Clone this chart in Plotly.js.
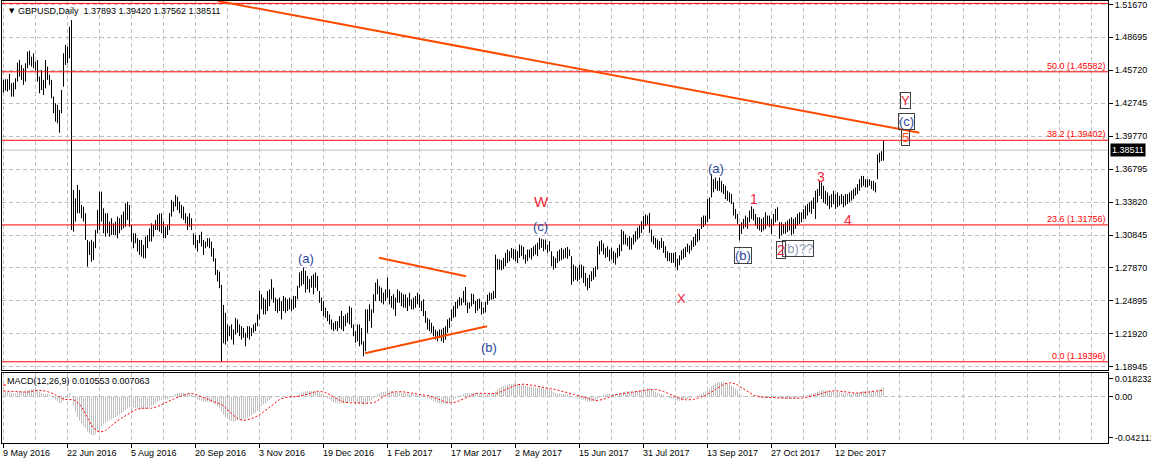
<!DOCTYPE html>
<html><head><meta charset="utf-8">
<script src="https://cdn.plot.ly/plotly-3.0.1.min.js"></script>
<style>html,body{margin:0;padding:0;background:#fff}#chart{width:1151px;height:465px}</style>
</head><body><div id="chart"></div>
<script>
// ---- data (daily GBPUSD bars, index 0 = 9 May 2016) ----
const high = [
1.4485,1.4491,1.4491,1.4539,1.4455,1.4461,1.4500,1.4641,1.4665,1.4620,
1.4590,1.4635,1.4740,1.4749,1.4695,1.4725,1.4650,1.4665,1.4515,1.4575,
1.4485,1.4665,1.4605,1.4530,1.4485,1.4334,1.4274,1.4259,1.4214,1.4394,
1.4725,1.4801,1.4786,1.4966,1.5026,1.3491,1.3416,1.3536,1.3491,1.3356,
1.3341,1.3281,1.3040,1.3025,1.3040,1.3025,1.3130,1.3311,1.3476,1.3476,
1.3326,1.3281,1.3281,1.3206,1.3236,1.3190,1.3206,1.3251,1.3236,1.3266,
1.3296,1.3371,1.3386,1.3356,1.3175,1.3100,1.3100,1.3055,1.3040,1.3040,
1.2995,1.3070,1.3085,1.3145,1.3190,1.3175,1.3221,1.3266,1.3281,1.3281,
1.3206,1.3160,1.3175,1.3281,1.3401,1.3386,1.3446,1.3431,1.3386,1.3356,
1.3341,1.3281,1.3251,1.3281,1.3236,1.3100,1.3085,1.3040,1.3085,1.3115,
1.3040,1.3025,1.3055,1.3055,1.3025,1.2965,1.2874,1.2769,1.2754,1.2634,
1.2453,1.2382,1.2277,1.2261,1.2277,1.2231,1.2337,1.2322,1.2277,1.2261,
1.2246,1.2201,1.2261,1.2261,1.2246,1.2277,1.2292,1.2367,1.2579,1.2549,
1.2519,1.2504,1.2579,1.2594,1.2685,1.2609,1.2519,1.2504,1.2519,1.2488,
1.2534,1.2519,1.2504,1.2519,1.2504,1.2534,1.2534,1.2625,1.2746,1.2761,
1.2791,1.2761,1.2715,1.2685,1.2715,1.2730,1.2746,1.2715,1.2579,1.2519,
1.2488,1.2428,1.2398,1.2367,1.2322,1.2292,1.2307,1.2307,1.2352,1.2398,
1.2352,1.2367,1.2382,1.2443,1.2428,1.2277,1.2216,1.2277,1.2277,1.2246,
1.2125,1.2413,1.2413,1.2458,1.2413,1.2549,1.2655,1.2685,1.2625,1.2609,
1.2564,1.2594,1.2700,1.2594,1.2534,1.2549,1.2519,1.2594,1.2579,1.2564,
1.2549,1.2549,1.2519,1.2564,1.2504,1.2519,1.2534,1.2564,1.2549,1.2488,
1.2504,1.2398,1.2337,1.2322,1.2292,1.2261,1.2231,1.2216,1.2231,1.2231,
1.2246,1.2261,1.2322,1.2337,1.2413,1.2443,1.2480,1.2500,1.2525,1.2515,
1.2580,1.2615,1.2475,1.2475,1.2555,1.2550,1.2490,1.2505,1.2510,1.2480,
1.2430,1.2480,1.2545,1.2565,1.2560,1.2580,1.2908,1.2869,1.2863,1.2857,
1.2878,1.2923,1.2953,1.2938,1.2968,1.2959,1.2953,1.2938,1.2999,1.2990,
1.2977,1.2908,1.2953,1.2953,1.2968,1.2983,1.2999,1.3014,1.3059,1.3050,
1.3044,1.3044,1.2999,1.3029,1.2938,1.2893,1.2878,1.2938,1.2953,1.2968,
1.2953,1.2968,1.2977,1.2953,1.2893,1.2817,1.2802,1.2787,1.2817,1.2817,
1.2802,1.2742,1.2697,1.2727,1.2757,1.2787,1.2802,1.2983,1.3029,1.3038,
1.3008,1.2968,1.2983,1.2953,1.2968,1.2938,1.2923,1.2968,1.2999,1.3134,
1.3119,1.3089,1.3059,1.3074,1.3059,1.3089,1.3119,1.3150,1.3171,1.3210,
1.3255,1.3270,1.3261,1.3285,1.3134,1.3074,1.3059,1.3044,1.3029,1.3059,
1.3029,1.2983,1.2938,1.2923,1.2923,1.2923,1.2931,1.2871,1.2901,1.2946,
1.2961,1.2976,1.3006,1.2991,1.3036,1.3066,1.3095,1.3140,1.3140,1.3245,
1.3260,1.3260,1.3409,1.3424,1.3633,1.3588,1.3603,1.3573,1.3603,1.3573,
1.3544,1.3529,1.3484,1.3469,1.3454,1.3379,1.3320,1.3275,1.3185,1.3200,
1.3230,1.3260,1.3245,1.3305,1.3343,1.3320,1.3275,1.3245,1.3245,1.3230,
1.3245,1.3290,1.3260,1.3260,1.3230,1.3275,1.3320,1.3335,1.3200,1.3200,
1.3185,1.3200,1.3215,1.3230,1.3245,1.3230,1.3245,1.3275,1.3290,1.3290,
1.3320,1.3349,1.3364,1.3379,1.3394,1.3424,1.3484,1.3499,1.3573,1.3559,
1.3529,1.3484,1.3469,1.3439,1.3454,1.3484,1.3454,1.3469,1.3439,1.3454,
1.3439,1.3454,1.3454,1.3469,1.3484,1.3499,1.3514,1.3544,1.3588,1.3618,
1.3618,1.3588,1.3588,1.3588,1.3573,1.3573,1.3559,1.3812,1.3827,1.3842,1.3942
];
const low = [
1.4370,1.4388,1.4379,1.4394,1.4334,1.4334,1.4400,1.4470,1.4515,1.4485,
1.4440,1.4470,1.4590,1.4620,1.4605,1.4590,1.4569,1.4470,1.4364,1.4394,
1.4349,1.4409,1.4485,1.4440,1.4319,1.4184,1.4108,1.4093,1.4009,1.4184,
1.4424,1.4620,1.4635,1.4680,1.3130,1.3115,1.3206,1.3281,1.3281,1.3236,
1.3206,1.3040,1.2799,1.2904,1.2844,1.2859,1.2965,1.3100,1.3130,1.3206,
1.3100,1.3070,1.3100,1.3070,1.3085,1.3085,1.3085,1.3055,1.3100,1.3130,
1.3145,1.3160,1.3221,1.3160,1.3025,1.2965,1.3010,1.2935,1.2904,1.2889,
1.2874,1.2874,1.2965,1.3025,1.3025,1.3070,1.3130,1.3130,1.3115,1.3100,
1.3055,1.3055,1.3085,1.3130,1.3251,1.3296,1.3341,1.3311,1.3281,1.3236,
1.3221,1.3190,1.3130,1.3160,1.3130,1.2995,1.2965,1.2935,1.3010,1.2980,
1.2904,1.2965,1.2980,1.2965,1.2889,1.2844,1.2724,1.2664,1.2604,1.1941,
1.2107,1.2095,1.2125,1.2171,1.2140,1.2095,1.2186,1.2201,1.2171,1.2140,
1.2156,1.2080,1.2156,1.2140,1.2171,1.2201,1.2216,1.2261,1.2322,1.2413,
1.2367,1.2367,1.2398,1.2443,1.2504,1.2473,1.2398,1.2382,1.2398,1.2322,
1.2398,1.2382,1.2398,1.2413,1.2398,1.2413,1.2428,1.2504,1.2609,1.2625,
1.2640,1.2564,1.2594,1.2564,1.2609,1.2549,1.2609,1.2579,1.2473,1.2398,
1.2352,1.2337,1.2307,1.2277,1.2231,1.2216,1.2231,1.2216,1.2246,1.2231,
1.2216,1.2261,1.2292,1.2277,1.2246,1.2171,1.2110,1.2125,1.2080,1.2095,
1.1989,1.2035,1.2201,1.2307,1.2246,1.2382,1.2488,1.2549,1.2488,1.2473,
1.2458,1.2488,1.2519,1.2458,1.2428,1.2413,1.2352,1.2473,1.2473,1.2443,
1.2428,1.2428,1.2398,1.2443,1.2413,1.2413,1.2428,1.2458,1.2428,1.2398,
1.2352,1.2292,1.2231,1.2216,1.2201,1.2171,1.2140,1.2125,1.2156,1.2125,
1.2110,1.2140,1.2201,1.2246,1.2307,1.2337,1.2345,1.2420,1.2445,1.2450,
1.2475,1.2450,1.2380,1.2420,1.2440,1.2460,1.2380,1.2400,1.2420,1.2365,
1.2375,1.2385,1.2455,1.2490,1.2500,1.2505,1.2515,1.2772,1.2772,1.2766,
1.2778,1.2802,1.2832,1.2848,1.2878,1.2863,1.2848,1.2832,1.2878,1.2893,
1.2863,1.2826,1.2848,1.2878,1.2863,1.2893,1.2908,1.2893,1.2953,1.2968,
1.2938,1.2953,1.2923,1.2938,1.2802,1.2772,1.2787,1.2832,1.2848,1.2857,
1.2869,1.2878,1.2869,1.2893,1.2636,1.2666,1.2681,1.2666,1.2681,1.2697,
1.2651,1.2621,1.2585,1.2606,1.2666,1.2681,1.2706,1.2772,1.2908,1.2938,
1.2908,1.2878,1.2887,1.2848,1.2863,1.2832,1.2817,1.2878,1.2893,1.2938,
1.2999,1.2999,1.2983,1.2953,1.2953,1.2999,1.3020,1.3044,1.3059,1.3104,
1.3134,1.3165,1.3180,1.3104,1.3020,1.2999,1.2968,1.2953,1.2953,1.2968,
1.2923,1.2878,1.2848,1.2848,1.2832,1.2832,1.2797,1.2767,1.2812,1.2857,
1.2871,1.2886,1.2931,1.2916,1.2946,1.2976,1.2991,1.3021,1.3036,1.3140,
1.3155,1.3176,1.3200,1.3230,1.3424,1.3469,1.3499,1.3484,1.3484,1.3469,
1.3454,1.3409,1.3394,1.3379,1.3364,1.3260,1.3230,1.3185,1.3036,1.3095,
1.3140,1.3155,1.3140,1.3200,1.3230,1.3215,1.3170,1.3140,1.3125,1.3110,
1.3125,1.3140,1.3170,1.3155,1.3095,1.3170,1.3200,1.3215,1.3051,1.3081,
1.3095,1.3095,1.3110,1.3125,1.3081,1.3095,1.3140,1.3170,1.3185,1.3200,
1.3230,1.3230,1.3260,1.3290,1.3275,1.3320,1.3230,1.3379,1.3439,1.3409,
1.3379,1.3364,1.3349,1.3320,1.3335,1.3364,1.3320,1.3335,1.3349,1.3364,
1.3335,1.3349,1.3364,1.3379,1.3394,1.3409,1.3439,1.3454,1.3484,1.3514,
1.3529,1.3514,1.3514,1.3529,1.3499,1.3484,1.3469,1.3588,1.3738,1.3753,1.3756
];
const dateLabels = ['9 May 2016','22 Jun 2016','5 Aug 2016','20 Sep 2016','3 Nov 2016','19 Dec 2016','1 Feb 2017','17 Mar 2017','2 May 2017','15 Jun 2017','31 Jul 2017','13 Sep 2017','27 Oct 2017','12 Dec 2017'];
const dateLabelBars = [0,32,64,96,128,160,192,224,256,288,320,352,384,416];
const priceTicks = [1.51670,1.48695,1.45720,1.42745,1.39770,1.36795,1.33820,1.30845,1.27870,1.24895,1.21920,1.18945];
const macdTicks = [0.018232, 0, -0.042112];
const macdTickText = ['0.018232','0.00','-0.042112'];
const fibLevels = [61.8, 50.0, 38.2, 23.6, 0.0];
const fibPrices = [1.51763, 1.45582, 1.39402, 1.31756, 1.19396];
const lastPrice = 1.38511;
const headerOHLC = ['1.37893','1.39420','1.37562','1.38511'];
const macdHeader = ['0.010553','0.007063'];
const macdStart = 0.0050, signalStart = 0.0056; // MACD / signal level at the first bar

// ---- trendlines [bar, price] pairs and wave labels ----
const trendLines = [
  [[107.1, 1.51976], [457.9, 1.40083]],
  [[180.75, 1.20163], [241.75, 1.22610]],
  [[187.75, 1.28796], [231.25, 1.27116]]
];
const BLUE = '#2A4A9E', RED = '#F2283C';
const waveLabels = [
  {t:'(a)', i:151,    p:1.28768, c:BLUE},
  {t:'(b)', i:242.75, p:1.20732, c:BLUE},
  {t:'(c)', i:268.25, p:1.31658, c:BLUE},
  {t:'W',   i:269,    p:1.33871, c:RED, s:15},
  {t:'X',   i:338.75, p:1.25157, c:RED},
  {t:'(a)', i:356,    p:1.36895, c:BLUE},
  {t:'(b)', i:369.9,  p:1.29040, c:BLUE, box:true},
  {t:'1',   i:375,    p:1.34096, c:RED, s:14},
  {t:'(b)??', i:397.2, p:1.29582, c:'#8E9CB8', box:true},
  {t:'2',   i:388.6,  p:1.29491, c:RED, s:14, box:true},
  {t:'3',   i:408.75, p:1.36128, c:RED, s:14},
  {t:'4',   i:422.4,  p:1.32200, c:RED, s:14},
  {t:'Y',   i:450.9,  p:1.42991, c:RED, box:true},
  {t:'(c)', i:451.6,  p:1.41140, c:BLUE, box:true},
  {t:'5',   i:450.9,  p:1.39695, c:'#FF4A20', box:true}
];

// ---- build traces ----
const bx = [], by = [];
for (let k = 0; k < high.length; k++) { bx.push(k, k, null); by.push(low[k], high[k], null); }

const med = high.map((h, k) => (h + low[k]) / 2);
let e12 = med[0], e26 = med[0] - macdStart;
const a12 = 2 / 13, a26 = 2 / 27;
const macd = [];
for (let k = 0; k < med.length; k++) {
  if (k > 0) { e12 += a12 * (med[k] - e12); e26 += a26 * (med[k] - e26); }
  macd.push(e12 - e26);
}
const signal = macd.map((v, k) => {
  let s = 0; for (let j = k - 8; j <= k; j++) s += (j >= 0 ? macd[j] : signalStart); return s / 9;
});
const hx = [], hy = [];
for (let k = 0; k < macd.length; k++) { hx.push(k, k, null); hy.push(0, macd[k], null); }
const idx = macd.map((v, k) => k);

const traces = [
  {type:'scatter', mode:'lines', x:bx, y:by, xaxis:'x2', yaxis:'y', line:{color:'#000', width:1}, hoverinfo:'skip'},
  {type:'scatter', mode:'lines', x:hx, y:hy, xaxis:'x', yaxis:'y2', line:{color:'#C0C0C0', width:1}, hoverinfo:'skip'},
  {type:'scatter', mode:'lines', x:idx, y:signal, xaxis:'x', yaxis:'y2', line:{color:'#FF0000', width:1, dash:'2px,2px'}, hoverinfo:'skip'}
];

const FONT = 'Liberation Sans, Arial, sans-serif';
const GRID = '#C0C0C0', GD = '4px,3px';
const xr = [-0.75, 552.25];
const allGrid = []; for (let g = 0; g <= 544; g += 16) allGrid.push(g);
const minorGrid = allGrid.filter(g => !dateLabelBars.includes(g));

const shapes = [];
shapes.push({type:'line', xref:'paper', yref:'y2', x0:0, x1:1, y0:0, y1:0, line:{color:GRID, width:1, dash:GD}, layer:'below'});
shapes.push({type:'line', xref:'paper', yref:'y', x0:0, x1:1, y0:lastPrice, y1:lastPrice, line:{color:'#C0C0C0', width:1}, layer:'below'});
fibPrices.forEach(p => shapes.push({type:'line', xref:'paper', yref:'y', x0:0, x1:1, y0:p, y1:p, line:{color:'#FF0000', width:1}, layer:'above'}));
trendLines.forEach(l => shapes.push({type:'line', xref:'x2', yref:'y', x0:l[0][0], y0:l[0][1], x1:l[1][0], y1:l[1][1], line:{color:'#FF4A00', width:2}, layer:'above'}));
// small colour mark of the MACD window
shapes.push({type:'line', xref:'paper', yref:'paper', x0:(3-2)/1106, x1:(6-2)/1106, y0:(443-385)/442, y1:(443-385)/442, line:{color:'#FF0000', width:1}});

const ann = [];
ann.push({xref:'paper', yref:'paper', x:(7-2)/1106, y:(443-11)/442, xanchor:'left', yanchor:'middle', text:'▼', showarrow:false, font:{family:'DejaVu Sans', size:7, color:'#000'}});
ann.push({xref:'paper', yref:'paper', x:(16-2)/1106, y:(443-11)/442, xanchor:'left', yanchor:'middle', text:'GBPUSD,Daily  ' + headerOHLC.join(' '), showarrow:false, font:{family:FONT, size:9, color:'#000'}});
ann.push({xref:'paper', yref:'paper', x:(5-2)/1106, y:(443-381)/442, xanchor:'left', yanchor:'middle', text:'MACD(12,26,9) ' + macdHeader.join(' '), showarrow:false, font:{family:FONT, size:9, color:'#000'}});
dateLabels.forEach((t, k) => ann.push({xref:'x', yref:'paper', x:dateLabelBars[k], y:0, xanchor:'left', yanchor:'top', xshift:-3, yshift:-3, text:t, showarrow:false, font:{family:FONT, size:9, color:'#000'}}));
fibLevels.forEach((lv, k) => { if (fibPrices[k] < 1.515) ann.push({xref:'paper', yref:'y', x:1, y:fibPrices[k], xanchor:'right', yanchor:'bottom', yshift:-1, text:lv.toFixed(1) + ' (' + fibPrices[k].toFixed(5) + ')', showarrow:false, font:{family:FONT, size:9, color:'#FF0000'}}); });
ann.push({xref:'paper', yref:'y', x:1, y:lastPrice, xanchor:'left', yanchor:'middle', xshift:2, text:lastPrice.toFixed(5), showarrow:false, bgcolor:'#000', borderpad:1, font:{family:FONT, size:9, color:'#FFF'}});
waveLabels.forEach(w => ann.push({xref:'x2', yref:'y', x:w.i, y:w.p, xanchor:'center', yanchor:'middle', text:w.t, showarrow:false,
  font:{family:FONT, size:w.s || 13, color:w.c}, bordercolor: w.box ? '#404040' : 'rgba(0,0,0,0)', borderwidth:1, borderpad:0}));

const layout = {
  width:1151, height:465,
  margin:{l:2, r:43, t:1, b:22, pad:0},
  paper_bgcolor:'#FFFFFF', plot_bgcolor:'#FFFFFF',
  showlegend:false, hovermode:false,
  font:{family:FONT, size:9, color:'#000'},
  xaxis:{domain:[0,1], anchor:'y2', range:xr, tickmode:'array', tickvals:dateLabelBars, ticks:'outside', ticklen:4, tickcolor:'#000', tickwidth:1,
    showticklabels:false, showgrid:true, gridcolor:GRID, griddash:GD, gridwidth:1,
    minor:{tickmode:'array', tickvals:minorGrid, showgrid:true, gridcolor:GRID, griddash:GD, gridwidth:1, ticks:''},
    showline:true, linecolor:'#000', linewidth:1, mirror:true, zeroline:false, automargin:false, fixedrange:true},
  xaxis2:{domain:[0,1], anchor:'y', matches:'x', range:xr, tickmode:'array', tickvals:allGrid, ticks:'', showticklabels:false,
    showgrid:true, gridcolor:GRID, griddash:GD, gridwidth:1, showline:true, linecolor:'#000', linewidth:1, mirror:true, zeroline:false, automargin:false, fixedrange:true},
  yaxis:{domain:[(443-370)/442, 1], anchor:'x2', side:'right', range:[1.18655, 1.51976], tickmode:'array', tickvals:priceTicks,
    ticktext:priceTicks.map(v => v.toFixed(5)), ticks:'outside', ticklen:4, tickcolor:'#000', tickfont:{family:FONT, size:9, color:'#000'},
    ticklabeloverflow:'allow',
    showgrid:true, gridcolor:GRID, griddash:GD, gridwidth:1, showline:true, linecolor:'#000', linewidth:1, mirror:true, zeroline:false, automargin:false, fixedrange:true},
  yaxis2:{domain:[0, 70/442], anchor:'x', side:'right', range:[-0.04721, 0.02386], tickmode:'array', tickvals:macdTicks, ticktext:macdTickText,
    ticks:'outside', ticklen:4, tickcolor:'#000', tickfont:{family:FONT, size:9, color:'#000'}, ticklabeloverflow:'allow',
    showgrid:false, showline:true, linecolor:'#000', linewidth:1, mirror:true, zeroline:false, automargin:false, fixedrange:true},
  shapes:shapes,
  annotations:ann
};

Plotly.newPlot('chart', traces, layout, {staticPlot:true, displayModeBar:false});
</script>
</body></html>
